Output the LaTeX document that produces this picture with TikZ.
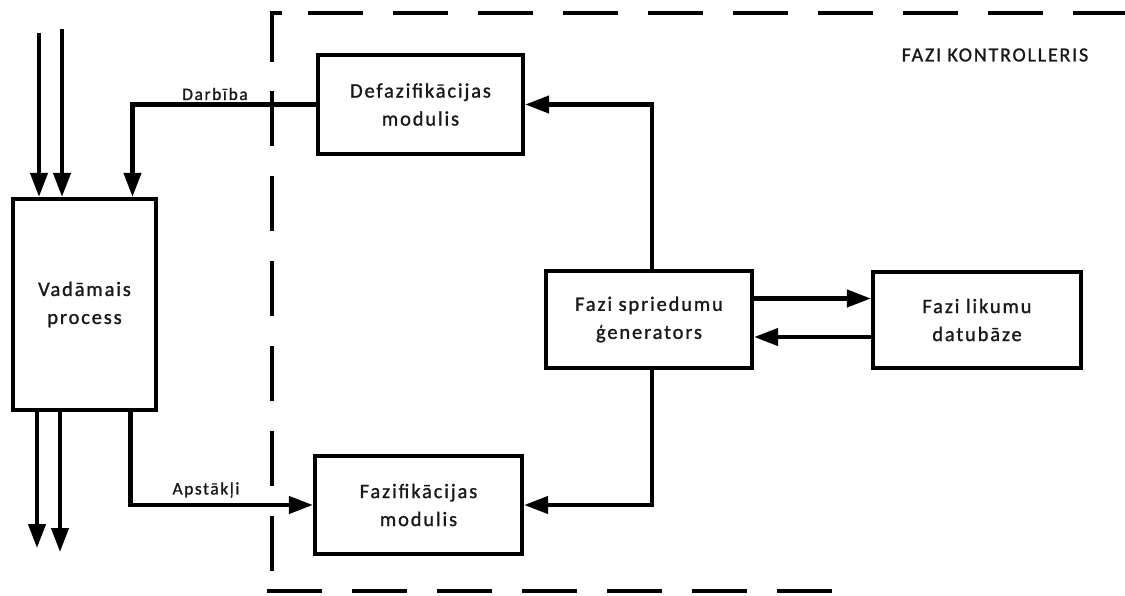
\documentclass[tikz,border=0pt]{standalone}
\usepackage{fontspec}
\setmainfont{Carlito}[LetterSpace=9,FakeBold=1.2]
\usetikzlibrary{arrows.meta}
\begin{document}
\begin{tikzpicture}[x=1pt,y=-1pt,
  line width=4.2pt,
  blk/.style={draw, line width=4.2pt, inner sep=0pt, align=center,
    font=\fontsize{20.5}{28}\selectfont, text=black!90},
  arr/.style={-{Triangle[length=24pt,width=17pt]}, line width=4.2pt},
  lbl/.style={font=\fontsize{17.5}{20}\selectfont, inner sep=0pt, text=black!90},
  bound/.style={line width=4.2pt, dash pattern=on 55pt off 30pt}]
\useasboundingbox (0,0) rectangle (1125,596);

% blocks
\node[blk, minimum width=143pt, minimum height=211pt] (vad) at (84.5,304.5) {Vadāmais\\process};
\node[blk, minimum width=205pt, minimum height=99pt] (defaz) at (420.5,104.5) {Defazifikācijas\\modulis};
\node[blk, minimum width=207pt, minimum height=98pt] (fazif) at (418.5,505) {Fazifikācijas\\modulis};
\node[blk, minimum width=206pt, minimum height=97pt] (gen) at (649,319.5) {Fazi spriedumu\\ģenerators};
\node[blk, minimum width=208pt, minimum height=96pt] (lik) at (977,320) {Fazi likumu\\datubāze};

% controller boundary
\draw[line width=4.2pt] (282,13) -- (272,13) -- (272,62);
\draw[bound] (272,91) -- (272,596);
\draw[bound] (308,13) -- (1125,13);
\draw[bound] (267,591) -- (840,591);
\node[font=\fontsize{20}{24}\selectfont, inner sep=0pt, text=black!90] (title) at (995,55) {FAZI KONTROLLERIS};

% process inputs and outputs
\coordinate (in1) at (39,33);
\coordinate (in2) at (62,29);
\coordinate (out1) at (37,548);
\coordinate (out2) at (60,552);
\draw[arr] (in1) -- (in1 |- vad.north);
\draw[arr] (in2) -- (in2 |- vad.north);
\draw[arr] (out1 |- vad.south) -- (out1);
\draw[arr] (out2 |- vad.south) -- (out2);

% control loop
\draw[arr] (defaz.west) -| ([xshift=48pt]vad.north);
\node[lbl] (darb) at (215,94) {Darbība};
\draw[arr] ([xshift=46pt]vad.south) |- (fazif.west);
\node[lbl] (apst) at (206,490) {Apstākļi};
\draw[arr] ([xshift=3pt]gen.north) |- (defaz.east);
\draw[arr] ([xshift=3pt]gen.south) |- (fazif.east);

% inference engine and rule base
\coordinate (g1) at ([yshift=21pt]gen.east);
\coordinate (g2) at ([yshift=-17.5pt]gen.east);
\draw[arr] (g1) -- (g1 -| lik.west);
\draw[arr] (g2 -| lik.west) -- (g2);
\end{tikzpicture}
\end{document}
